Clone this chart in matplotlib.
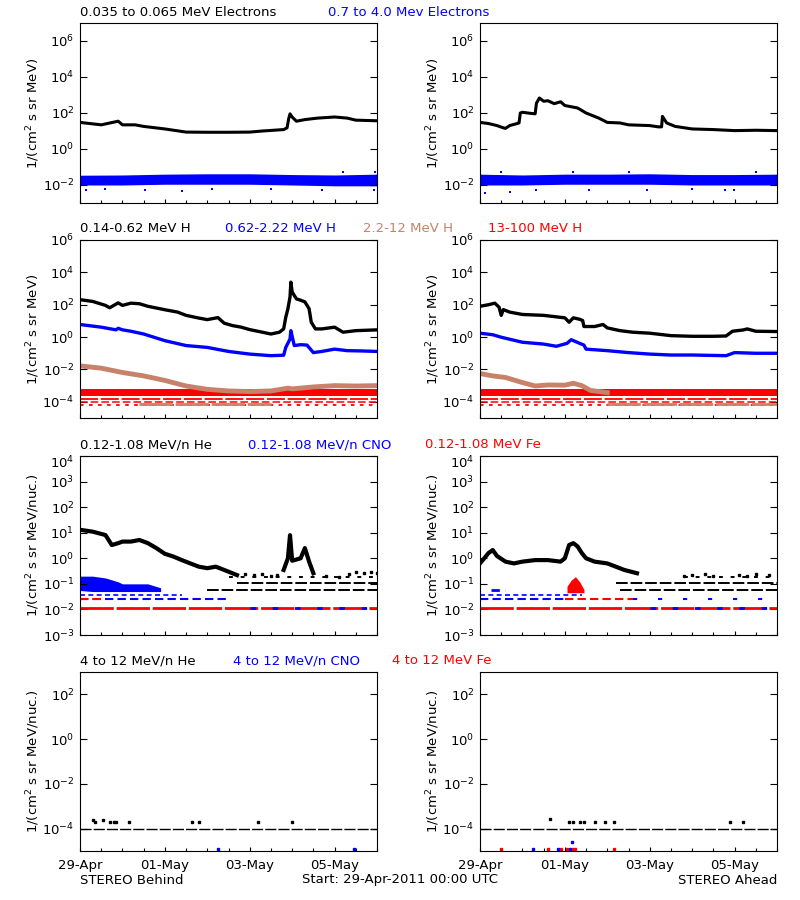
import datetime as dt
import numpy as np
import matplotlib
matplotlib.use("Agg")
import matplotlib.pyplot as plt
import matplotlib.dates as mdates
from matplotlib.ticker import FixedLocator, LogFormatterSciNotation, NullLocator
from matplotlib.transforms import ScaledTranslation

BLUE = "#0000ff"
RED = "#ff0000"
BROWN = "#c8826a"
t0 = dt.datetime(2011, 4, 29)

# ---- row 1: electrons (days since 29-Apr, flux) ----
elo_b_d = [0, 0.5, 0.9, 1.0, 1.3, 1.5, 2.0, 2.5, 3.0, 3.5, 4.0, 4.3, 4.8, 4.88, 4.92, 4.95, 5.0, 5.1, 5.3, 5.6, 6.0, 6.3, 6.5, 7.0]
elo_b_v = [30, 22, 35, 22, 22, 18, 13, 8.7, 8.5, 8.5, 8.7, 10, 12, 15, 50, 90, 60, 35, 43, 52, 60, 52, 40, 37]
elo_a_d = [0, 0.2, 0.4, 0.55, 0.6, 0.7, 0.9, 0.92, 0.95, 1.0, 1.2, 1.3, 1.33, 1.4, 1.5, 1.6, 1.75, 1.9, 2.0, 2.3, 2.5, 2.8, 3.0, 3.3, 3.5, 4.0, 4.2, 4.28, 4.3, 4.4, 4.6, 5.0, 5.5, 6.0, 6.5, 7.0]
elo_a_v = [30, 26, 20, 15, 14, 20, 27, 28, 100, 110, 95, 90, 350, 680, 450, 480, 330, 420, 260, 190, 100, 52, 30, 28, 22, 20, 17, 17, 65, 28, 18, 13, 12, 10.5, 11, 10.5]
ehi_d = [0, 1, 2, 3, 4, 5, 6, 7]
ehi_b_lo = [0.010, 0.010, 0.011, 0.011, 0.011, 0.010, 0.009, 0.009]
ehi_b_hi = [0.035, 0.036, 0.040, 0.042, 0.042, 0.038, 0.036, 0.040]
ehi_a_lo = [0.010, 0.010, 0.011, 0.011, 0.011, 0.010, 0.010, 0.010]
ehi_a_hi = [0.040, 0.036, 0.040, 0.040, 0.042, 0.038, 0.038, 0.040]
ehi_b_out_d = [0.14, 0.6, 1.53, 2.4, 3.1, 4.5, 5.7, 6.2, 6.92, 6.95]
ehi_b_out_v = [0.005, 0.006, 0.005, 0.0045, 0.006, 0.006, 0.005, 0.05, 0.005, 0.05]
ehi_a_out_d = [0.12, 0.5, 0.7, 1.32, 2.2, 2.56, 3.5, 3.93, 5.0, 5.78, 5.98, 6.5]
ehi_a_out_v = [0.0036, 0.055, 0.004, 0.005, 0.05, 0.0055, 0.05, 0.0055, 0.006, 0.005, 0.005, 0.05]

# ---- row 2: protons ----
h1_b_d = [0, 0.3, 0.6, 0.7, 0.9, 1.0, 1.2, 1.4, 1.6, 2.0, 2.3, 2.5, 2.8, 3.0, 3.25, 3.4, 3.6, 3.8, 4.0, 4.3, 4.5, 4.7, 4.8, 4.85, 4.9, 4.95, 4.97, 5.0, 5.1, 5.2, 5.3, 5.4, 5.45, 5.55, 5.7, 6.0, 6.2, 6.5, 7.0]
h1_b_v = [205, 160, 91, 65, 130, 91, 125, 115, 80, 49, 35, 22, 15, 12, 16, 7.2, 5.1, 4.1, 2.9, 2.0, 1.55, 2.0, 3.2, 17, 56, 300, 2500, 620, 230, 190, 150, 56, 8.3, 3.2, 3.2, 4.1, 2.0, 2.5, 2.8]
h2_b_d = [0, 0.5, 0.85, 0.9, 1.0, 1.2, 1.5, 2.0, 2.5, 3.0, 3.5, 4.0, 4.5, 4.8, 4.85, 4.95, 4.97, 5.05, 5.2, 5.35, 5.5, 5.7, 6.0, 6.3, 6.6, 7.0]
h2_b_v = [6.0, 4.1, 2.8, 3.5, 2.8, 2.3, 1.55, 0.6, 0.3, 0.23, 0.13, 0.089, 0.071, 0.076, 0.23, 0.76, 2.5, 0.3, 0.34, 0.32, 0.11, 0.13, 0.18, 0.145, 0.14, 0.13]
h3_b_d = [0, 0.5, 1.0, 1.5, 2.0, 2.3, 2.5, 3.0, 3.5, 4.0, 4.5, 4.9, 5.0, 5.5, 6.0, 6.5, 7.0]
h3_b_v = [0.0166, 0.012, 0.0065, 0.004, 0.0021, 0.0013, 0.00095, 0.00059, 0.00047, 0.00043, 0.00047, 0.0007, 0.00063, 0.00083, 0.001, 0.00095, 0.001]
h1_a_d = [0, 0.2, 0.35, 0.45, 0.5, 0.55, 0.7, 1.0, 1.5, 2.0, 2.1, 2.2, 2.35, 2.42, 2.45, 2.7, 2.9, 3.0, 3.3, 3.6, 4.0, 4.5, 5.0, 5.5, 5.8, 5.95, 6.2, 6.3, 6.5, 7.0]
h1_a_v = [80, 100, 125, 70, 22, 50, 35, 25, 22, 15.5, 8.3, 15.5, 12.6, 10.5, 4.5, 4.5, 6.0, 3.7, 2.5, 2.0, 1.74, 1.23, 1.12, 1.12, 1.17, 2.3, 2.75, 3.2, 2.3, 2.2]
h2_a_d = [0, 0.3, 0.5, 1.0, 1.5, 1.8, 2.05, 2.15, 2.35, 2.45, 2.5, 3.0, 3.5, 4.0, 4.5, 5.0, 5.8, 6.0, 6.5, 7.0]
h2_a_v = [1.74, 1.4, 0.98, 0.48, 0.37, 0.27, 0.41, 0.69, 0.41, 0.32, 0.18, 0.145, 0.11, 0.089, 0.078, 0.078, 0.071, 0.11, 0.1, 0.1]
h3_a_d = [0, 0.3, 0.6, 1.0, 1.3, 1.6, 2.0, 2.2, 2.4, 2.6, 3.0]
h3_a_v = [0.0056, 0.004, 0.0032, 0.00155, 0.00095, 0.0011, 0.00107, 0.0014, 0.001, 0.00051, 0.00037]
h4_lo = 2.2e-4
h4_hi = 6.0e-4
h4_levels = [1.4e-4, 1.0e-4, 6.3e-5]
h3_floor = 7.5e-5
h3_floor_b = [1.4, 4.5]
h3_floor_a = [3.0, 7.0]

# ---- row 3: 0.12-1.08 MeV/n ions ----
he_b_d = [0, 0.3, 0.6, 0.75, 0.9, 1.0, 1.2, 1.4, 1.6, 1.8, 2.0, 2.2, 2.4, 2.6, 2.8, 3.0, 3.2, 3.5, 3.7, np.nan, 4.8, 4.9, 4.95, 5.0, 5.2, 5.3, 5.4, 5.5]
he_b_v = [13, 11, 8.1, 3.3, 3.9, 4.5, 4.5, 5.2, 3.9, 2.5, 1.5, 1.17, 0.85, 0.63, 0.47, 0.41, 0.47, 0.3, 0.22, np.nan, 0.35, 1.0, 8.0, 0.8, 1.0, 2.5, 0.74, 0.26]
he_b_dots_d = [3.9, 4.1, 4.3, 4.5, 4.65, 5.8, 6.1, 6.35, 6.5, 6.7, 6.85, 7.0]
he_b_dots_v = [0.25, 0.22, 0.24, 0.2, 0.22, 0.2, 0.19, 0.24, 0.3, 0.27, 0.3, 0.26]
he_a_d = [0, 0.1, 0.2, 0.3, 0.4, 0.6, 0.8, 1.0, 1.3, 1.6, 1.9, 2.0, 2.1, 2.2, 2.3, 2.4, 2.5, 2.7, 3.0, 3.2, 3.4, 3.7]
he_a_v = [0.63, 1.0, 1.6, 2.1, 1.23, 0.74, 0.63, 0.74, 0.85, 0.85, 0.74, 1.0, 3.3, 3.9, 2.9, 1.6, 1.0, 0.74, 0.63, 0.47, 0.35, 0.26]
he_a_dots_d = [4.8, 5.0, 5.3, 5.5, 6.1, 6.3, 6.5, 6.8]
he_a_dots_v = [0.2, 0.22, 0.24, 0.2, 0.22, 0.2, 0.24, 0.22]
cno_b_d = [0, 0.3, 0.6, 0.9, 1.0, 1.3, 1.6, 1.9]
cno_b_lo = [0.055, 0.05, 0.05, 0.05, 0.05, 0.05, 0.05, 0.05]
cno_b_hi = [0.2, 0.2, 0.17, 0.12, 0.1, 0.1, 0.1, 0.07]
fe_a_d = [2.05, 2.15, 2.25, 2.35, 2.45]
fe_a_lo = [0.045, 0.045, 0.045, 0.045, 0.045]
fe_a_hi = [0.08, 0.14, 0.19, 0.12, 0.06]
he_levels = [0.19, 0.11, 0.055]
he_lev_b = [(3.5, 7.0), (3.7, 7.0), (3.0, 7.0)]
he_lev_a = [(4.8, 7.0), (3.2, 7.0), (3.3, 7.0)]
ion_levels = [0.037, 0.025, 0.0115]

# ---- row 4: 4-12 MeV/n ions ----
hi_floor = 1.0e-4
he4_b_d = [0.3, 0.35, 0.55, 0.7, 0.8, 0.85, 1.15, 2.65, 2.8, 4.2, 5.0]
he4_b_v = [2.4e-4, 2.0e-4, 2.4e-4, 2.0e-4, 2.0e-4, 2.0e-4, 2.0e-4, 2.0e-4, 2.0e-4, 2.0e-4, 2.0e-4]
cno4_b_d = [3.25, 6.45]
cno4_b_v = [1.26e-5, 1.26e-5]
he4_a_d = [1.65, 2.1, 2.2, 2.35, 2.45, 2.7, 2.95, 3.15, 5.9, 6.2]
he4_a_v = [2.7e-4, 2.0e-4, 2.0e-4, 2.0e-4, 2.0e-4, 2.0e-4, 2.0e-4, 2.0e-4, 2.0e-4, 2.0e-4]
fe4_a_d = [0.5, 1.6, 1.9, 2.05, 2.2, 2.25, 3.15]
fe4_a_v = [1.26e-5] * 7
cno4_a_d = [1.25, 1.83, 2.13, 2.17]
cno4_a_v = [1.26e-5, 1.26e-5, 1.26e-5, 2.5e-5]


def tt(d):
    out = []
    for x in d:
        if np.isnan(x):
            out.append(np.nan)
        else:
            out.append(mdates.date2num(t0 + dt.timedelta(days=float(x))))
    return out


def setup(ax, ylo, yhi, step, xlab=False):
    ax.set_yscale("log")
    ax.set_ylim(ylo, yhi)
    ax.set_xlim(tt([0, 7]))
    e = range(int(round(np.log10(ylo))), int(round(np.log10(yhi))) + 1)
    ticks = [10.0 ** k for k in e if k % step == 0]
    ax.yaxis.set_major_locator(FixedLocator(ticks))
    ax.yaxis.set_minor_locator(NullLocator())
    ax.yaxis.set_major_formatter(LogFormatterSciNotation())
    ax.xaxis.set_major_locator(FixedLocator(tt([0, 2, 4, 6])))
    ax.xaxis.set_minor_locator(FixedLocator(tt(np.arange(0, 7.01, 0.5))))
    ax.xaxis.set_major_formatter(mdates.DateFormatter("%d-%b"))
    ax.tick_params(axis="y", which="major", direction="in", length=5, width=0.8,
                   left=True, right=True, labelsize=9.5, pad=4)
    ax.tick_params(axis="x", which="major", direction="in", length=3, width=0.8,
                   top=False, labelbottom=xlab, labelsize=9.5, pad=6)
    ax.tick_params(axis="x", which="minor", direction="in", length=2, width=0.8, top=False)
    for s in ax.spines.values():
        s.set_linewidth(0.8)


def level(ax, y, d0, d1, color, dash=(6, 2), lw=1.1):
    ax.plot(tt([d0, d1]), [y, y], color=color, lw=lw, ls=(0, dash), solid_capstyle="butt")


fig = plt.figure(figsize=(8, 9), dpi=100)
W, H = 800.0, 900.0


def axes_at(x0, top, bottom):
    return fig.add_axes([x0 / W, 1 - bottom / H, 297 / W, (bottom - top) / H])


rows = [(23, 203), (240, 418), (456, 635), (672, 851)]
ax = {}
for r, (top, bot) in enumerate(rows):
    ax[r, 0] = axes_at(80, top, bot)
    ax[r, 1] = axes_at(480, top, bot)

# row 1
for c, (d, v, lo, hi, od, ov) in enumerate([
        (elo_b_d, elo_b_v, ehi_b_lo, ehi_b_hi, ehi_b_out_d, ehi_b_out_v),
        (elo_a_d, elo_a_v, ehi_a_lo, ehi_a_hi, ehi_a_out_d, ehi_a_out_v)]):
    a = ax[0, c]
    a.fill_between(tt(ehi_d), lo, hi, color=BLUE, lw=0)
    a.plot(tt(od), ov, "s", color=BLUE, ms=2, mew=0)
    a.plot(tt(d), v, color="black", lw=2.2)
    setup(a, 1e-3, 1e7, 2)

# row 2
for c, (d1, v1, d2, v2, d3, v3, fl) in enumerate([
        (h1_b_d, h1_b_v, h2_b_d, h2_b_v, h3_b_d, h3_b_v, h3_floor_b),
        (h1_a_d, h1_a_v, h2_a_d, h2_a_v, h3_a_d, h3_a_v, h3_floor_a)]):
    a = ax[1, c]
    a.fill_between(tt([0, 7]), [h4_lo, h4_lo], [h4_hi, h4_hi], color=RED, lw=0)
    level(a, h4_levels[0], 0, 7, RED, (10, 1.5), 1.3)
    level(a, h4_levels[1], 0, 7, RED, (5, 2), 1.1)
    level(a, h4_levels[2], 0, 7, RED, (2, 3), 1.3)
    level(a, h3_floor, fl[0], fl[1], BROWN, (12, 1), 2.0)
    a.plot(tt(d3), v3, color=BROWN, lw=3.5)
    a.plot(tt(d2), v2, color=BLUE, lw=2.4)
    a.plot(tt(d1), v1, color="black", lw=2.4)
    setup(a, 1e-5, 1e6, 2)

# row 3
for c in range(2):
    a = ax[2, c]
    if c == 0:
        a.fill_between(tt(cno_b_d), cno_b_lo, cno_b_hi, color=BLUE, lw=0)
        level(a, ion_levels[0], 0, 2.4, BLUE, (3, 2), 1.2)
        level(a, ion_levels[1], 0, 3.5, BLUE, (4, 2), 1.5)
        level(a, ion_levels[1], 0, 0.6, RED, (4, 2), 1.5)
        level(a, ion_levels[2], 0, 7, RED, (12, 1), 2.0)
        level(a, ion_levels[2], 4.0, 7, BLUE, (2, 6), 2.0)
        levs, hd, hv, dd, dv = he_lev_b, he_b_d, he_b_v, he_b_dots_d, he_b_dots_v
    else:
        a.fill_between(tt(fe_a_d), fe_a_lo, fe_a_hi, color=RED, lw=0)
        level(a, 0.06, 0.25, 0.6, BLUE, (3, 2), 2.0)
        level(a, ion_levels[0], 0, 2.4, BLUE, (3, 2), 1.2)
        level(a, ion_levels[1], 0, 2.0, BLUE, (4, 2), 1.5)
        level(a, ion_levels[1], 2.0, 3.6, RED, (4, 2), 1.5)
        level(a, ion_levels[1], 3.6, 7, BLUE, (2, 10), 1.5)
        level(a, ion_levels[2], 0, 7, RED, (12, 1), 2.0)
        level(a, ion_levels[2], 4.0, 7, BLUE, (2, 6), 2.0)
        levs, hd, hv, dd, dv = he_lev_a, he_a_d, he_a_v, he_a_dots_d, he_a_dots_v
    for y, (d0, d1) in zip(he_levels, levs):
        level(a, y, d0, d1, "black", (6, 1.5) if y < 0.15 else (2, 4), 1.4)
    a.plot(tt(hd), hv, color="black", lw=3.0)
    a.plot(tt(dd), dv, "s", color="black", ms=2)
    setup(a, 1e-3, 1e4, 1)
    # top label sits a little below the axis top, as in the original
    top_tick = a.yaxis.get_major_ticks()[-1]
    top_tick.label1.set_transform(top_tick.label1.get_transform()
                                  + ScaledTranslation(0, -5 / 100, fig.dpi_scale_trans))

# row 4
for c in range(2):
    a = ax[3, c]
    level(a, hi_floor, 0, 7, "black", (8, 1.5), 1.0)
    if c == 0:
        a.plot(tt(he4_b_d), he4_b_v, "s", color="black", ms=2)
        a.plot(tt(cno4_b_d), cno4_b_v, "s", color=BLUE, ms=2)
    else:
        a.plot(tt(he4_a_d), he4_a_v, "s", color="black", ms=2)
        a.plot(tt(fe4_a_d), fe4_a_v, "s", color=RED, ms=2)
        a.plot(tt(cno4_a_d), cno4_a_v, "s", color=BLUE, ms=2)
    setup(a, 1e-5, 1e3, 2, xlab=True)

for c in range(2):
    x = 33 + 400 * c
    for r, (top, bot) in enumerate(rows):
        lab = "1/(cm$^2$ s sr MeV)" if r < 2 else "1/(cm$^2$ s sr MeV/nuc.)"
        fig.text(x / W, 1 - (top + bot) / 2 / H, lab, rotation=90, ha="center",
                 va="center", fontsize=9.5)

titles = [
    (80, 13, "0.035 to 0.065 MeV Electrons", "black"),
    (328, 13, "0.7 to 4.0 Mev Electrons", BLUE),
    (80, 229, "0.14-0.62 MeV H", "black"),
    (225, 229, "0.62-2.22 MeV H", BLUE),
    (363, 229, "2.2-12 MeV H", BROWN),
    (488, 229, "13-100 MeV H", RED),
    (80, 445, "0.12-1.08 MeV/n He", "black"),
    (248, 445, "0.12-1.08 MeV/n CNO", BLUE),
    (425, 445, "0.12-1.08 MeV Fe", RED),
    (80, 661, "4 to 12 MeV/n He", "black"),
    (233, 661, "4 to 12 MeV/n CNO", BLUE),
    (392, 661, "4 to 12 MeV Fe", RED),
]
for x, y, s, col in titles:
    fig.text(x / W, 1 - y / H, s, color=col, fontsize=9.5, ha="left", va="center")

fig.text(80 / W, 1 - 880 / H, "STEREO Behind", fontsize=9.5, ha="left", va="center")
fig.text(400 / W, 1 - 880 / H, "Start: 29-Apr-2011 00:00 UTC", fontsize=9.5, ha="center", va="center")
fig.text(777 / W, 1 - 880 / H, "STEREO Ahead", fontsize=9.5, ha="right", va="center")

fig.savefig("out.png", dpi=100)
